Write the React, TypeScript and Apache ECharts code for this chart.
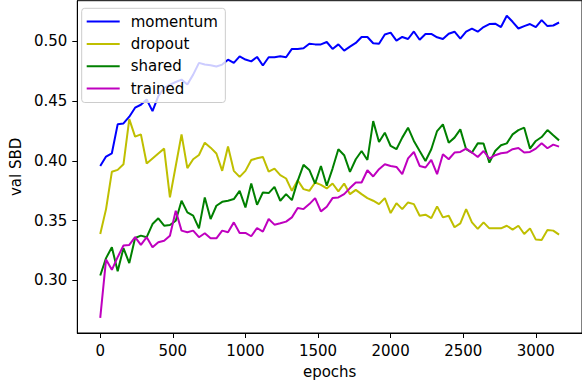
import React, { useEffect, useRef } from "react";
import * as echarts from "echarts";

const epochs = [
  0, 40, 80, 120, 160, 200, 240, 280, 320, 360, 400, 440, 480, 520, 560, 600, 640, 680, 720, 760,
  800, 840, 880, 920, 960, 1000, 1040, 1080, 1120, 1160, 1200, 1240, 1280, 1320, 1360, 1400, 1440, 1480, 1520, 1560,
  1600, 1640, 1680, 1720, 1760, 1800, 1840, 1880, 1920, 1960, 2000, 2040, 2080, 2120, 2160, 2200, 2240, 2280, 2320, 2360,
  2400, 2440, 2480, 2520, 2560, 2600, 2640, 2680, 2720, 2760, 2800, 2840, 2880, 2920, 2960, 3000, 3040, 3080, 3120, 3160,
];

const momentum = [
  0.3958, 0.4037, 0.4064, 0.4306, 0.4314, 0.437, 0.4445, 0.447, 0.4514, 0.4417,
  0.4542, 0.461, 0.4639, 0.466, 0.468, 0.464, 0.4722, 0.482, 0.4806, 0.48,
  0.479, 0.4806, 0.4847, 0.482, 0.4875, 0.4848, 0.4833, 0.487, 0.4798, 0.4867,
  0.4867, 0.4875, 0.4867, 0.4937, 0.4937, 0.4942, 0.4981, 0.4975, 0.4975, 0.4995,
  0.4937, 0.4975, 0.4923, 0.4956, 0.4987, 0.5037, 0.5037, 0.4984, 0.498, 0.5058,
  0.5073, 0.5006, 0.5037, 0.502, 0.5083, 0.5014, 0.5062, 0.5062, 0.5034, 0.502,
  0.5064, 0.5081, 0.5023, 0.5081, 0.5106, 0.5081, 0.512, 0.5145, 0.5148, 0.512,
  0.5214, 0.5164, 0.5108, 0.5128, 0.5145, 0.512, 0.5178, 0.5128, 0.5133, 0.5158,
];

const dropout = [
  0.3389, 0.3597, 0.3909, 0.3925, 0.3972, 0.435, 0.4203, 0.4222, 0.3978, 0.402,
  0.4062, 0.4103, 0.3695, 0.3958, 0.4222, 0.394, 0.4014, 0.405, 0.4153, 0.4111,
  0.4062, 0.3917, 0.412, 0.3917, 0.3867, 0.3917, 0.4008, 0.4022, 0.4033, 0.3911,
  0.3936, 0.3881, 0.3853, 0.375, 0.3839, 0.3764, 0.375, 0.382, 0.38, 0.377,
  0.3811, 0.3745, 0.3811, 0.3722, 0.3758, 0.3722, 0.3689, 0.3667, 0.3639, 0.3689,
  0.3564, 0.3647, 0.3597, 0.3653, 0.3639, 0.3542, 0.355, 0.3522, 0.362, 0.3528,
  0.3542, 0.3445, 0.3478, 0.3597, 0.3486, 0.3431, 0.3486, 0.3436, 0.3436, 0.3436,
  0.3458, 0.3425, 0.3458, 0.3389, 0.3436, 0.3342, 0.3339, 0.3422, 0.3417, 0.3383,
];

const shared = [
  0.3042, 0.3187, 0.3278, 0.3078, 0.327, 0.3145, 0.3355, 0.3375, 0.3362, 0.3472,
  0.352, 0.3458, 0.3464, 0.35, 0.3667, 0.357, 0.3542, 0.3436, 0.3695, 0.3514,
  0.3625, 0.3658, 0.3667, 0.3681, 0.375, 0.3611, 0.3811, 0.3633, 0.3736, 0.3731,
  0.3783, 0.3667, 0.3722, 0.3672, 0.3833, 0.3967, 0.3925, 0.3811, 0.3958, 0.3792,
  0.3936, 0.4098, 0.4048, 0.3909, 0.4014, 0.4083, 0.4008, 0.4333, 0.4158, 0.4236,
  0.4125, 0.4098, 0.4195, 0.4278, 0.4167, 0.4083, 0.4, 0.4098, 0.425, 0.4306,
  0.4153, 0.4195, 0.4264, 0.4098, 0.407, 0.4147, 0.4145, 0.3986, 0.4083, 0.4131,
  0.4147, 0.4222, 0.4258, 0.4278, 0.4103, 0.4167, 0.42, 0.4258, 0.4214, 0.4172,
];

const trained = [
  0.2687, 0.3175, 0.3089, 0.3195, 0.3292, 0.3297, 0.3362, 0.3297, 0.3362, 0.3278,
  0.332, 0.3333, 0.3375, 0.3583, 0.3417, 0.3403, 0.3417, 0.3362, 0.3395, 0.3353,
  0.3353, 0.3417, 0.3403, 0.3486, 0.3398, 0.3398, 0.337, 0.3439, 0.3408, 0.3514,
  0.3467, 0.3478, 0.3492, 0.3528, 0.3606, 0.3597, 0.3639, 0.3689, 0.3578, 0.3617,
  0.3689, 0.3695, 0.3722, 0.3773, 0.382, 0.382, 0.3922, 0.387, 0.3931, 0.3972,
  0.3958, 0.395, 0.3889, 0.4021, 0.4075, 0.3958, 0.3945, 0.4008, 0.3889, 0.4056,
  0.4014, 0.407, 0.4075, 0.4103, 0.407, 0.4033, 0.4083, 0.402, 0.4048, 0.4064,
  0.407, 0.4098, 0.4108, 0.407, 0.4075, 0.4103, 0.4147, 0.4106, 0.4136, 0.412,
];

const xTicks = [0, 500, 1000, 1500, 2000, 2500, 3000];
const yTicks = [0.3, 0.35, 0.4, 0.45, 0.5];

const seriesNames = ["momentum", "dropout", "shared", "trained"];
const seriesColors = ["#0000ff", "#bfbf00", "#008000", "#bf00bf"];
const seriesValues = [momentum, dropout, shared, trained];

const FONT = "'DejaVu Sans', sans-serif";

export default function App() {
  const ref = useRef<HTMLDivElement>(null);

  useEffect(() => {
    if (!ref.current) return;
    const chart = echarts.init(ref.current, undefined, { renderer: "svg" });

    const allY = seriesValues.flat();
    const yMinD = Math.min(...allY);
    const yMaxD = Math.max(...allY);
    const yPad = (yMaxD - yMinD) * 0.05;
    const xMinD = Math.min(...epochs);
    const xMaxD = Math.max(...epochs);
    const xPad = (xMaxD - xMinD) * 0.05;

    chart.setOption({
      animation: false,
      backgroundColor: "#ffffff",
      textStyle: { fontFamily: FONT },
      grid: {
        left: 73.3,
        right: -3.4,
        top: 0.7,
        bottom: 50,
        show: true,
        borderColor: "#000000",
        borderWidth: 1,
        backgroundColor: "transparent",
      },
      legend: {
        orient: "vertical",
        left: 81.7,
        top: 8.3,
        data: seriesNames,
        icon: "rect",
        itemWidth: 33,
        itemHeight: 2,
        itemGap: 0.3,
        padding: [2.3, 7.5, 3, 5],
        backgroundColor: "rgba(255,255,255,0.8)",
        borderColor: "#cccccc",
        borderWidth: 1,
        borderRadius: 3,
        selectedMode: false,
        textStyle: {
          fontFamily: FONT,
          fontSize: 15,
          color: "#000000",
          lineHeight: 22,
          padding: [0, 0, 0, 6],
        },
      },
      xAxis: {
        type: "value",
        min: xMinD - xPad,
        max: xMaxD + xPad,
        name: "epochs",
        nameLocation: "middle",
        nameGap: 31,
        nameTextStyle: { fontFamily: FONT, fontSize: 15, color: "#000000" },
        splitLine: { show: false },
        axisLine: { show: true, onZero: false, lineStyle: { color: "#000000", width: 1 } },
        axisTick: {
          show: true,
          inside: false,
          length: 5,
          lineStyle: { color: "#000000", width: 1 },
          customValues: xTicks,
        },
        axisLabel: {
          show: true,
          margin: 10,
          fontFamily: FONT,
          fontSize: 15,
          color: "#000000",
          customValues: xTicks,
          formatter: (v: number) => String(v),
        },
      },
      yAxis: {
        type: "value",
        min: yMinD - yPad,
        max: yMaxD + yPad,
        name: "val SBD",
        nameLocation: "middle",
        nameGap: 51,
        nameTextStyle: { fontFamily: FONT, fontSize: 15, color: "#000000" },
        splitLine: { show: false },
        axisLine: { show: true, onZero: false, lineStyle: { color: "#000000", width: 1 } },
        axisTick: {
          show: true,
          inside: false,
          length: 5,
          lineStyle: { color: "#000000", width: 1 },
          customValues: yTicks,
        },
        axisLabel: {
          show: true,
          margin: 10,
          fontFamily: FONT,
          fontSize: 15,
          color: "#000000",
          customValues: yTicks,
          formatter: (v: number) => v.toFixed(2),
        },
      },
      series: seriesNames.map((name, k) => ({
        name,
        type: "line",
        data: epochs.map((e, i) => [e, seriesValues[k][i]]),
        showSymbol: false,
        symbol: "none",
        color: seriesColors[k],
        lineStyle: { color: seriesColors[k], width: 2 },
        clip: true,
        z: 2 + k,
      })),
    });

    return () => chart.dispose();
  }, []);

  return (
    <div
      ref={ref}
      style={{ position: "fixed", left: 0, top: 0, width: 582, height: 384 }}
    />
  );
}
